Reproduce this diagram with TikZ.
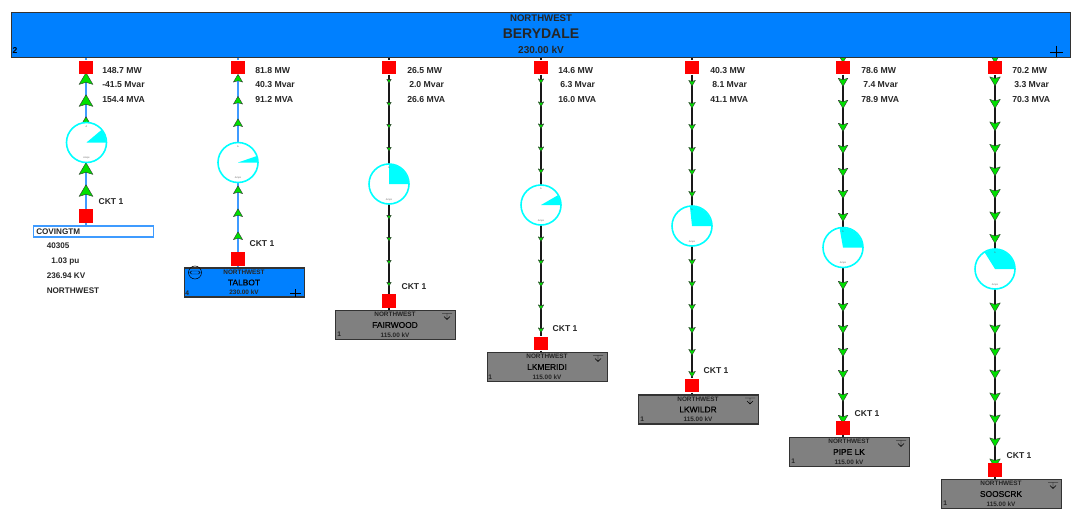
\documentclass[tikz,border=0pt]{standalone}
\usepackage{fontspec}
\setmainfont{Liberation Sans}
\newfontfamily\semib[FakeBold=0.35]{Liberation Sans}
\usetikzlibrary{backgrounds}
\definecolor{busblue}{HTML}{0080FF}
\definecolor{linblue}{HTML}{3F9BFF}
\definecolor{gaugecy}{HTML}{00FFFF}
\definecolor{busgrey}{HTML}{808080}
\definecolor{edgegrey}{HTML}{333333}
\definecolor{flowgreen}{HTML}{00E000}
\tikzset{
  x=0.75pt,y=-0.75pt,
  bigbus/.style={draw=edgegrey,line width=0.9pt,fill=busblue,minimum width=1059*0.75pt,minimum height=45*0.75pt,inner sep=0pt},
  subbus/.style={draw=edgegrey,line width=0.8pt,minimum width=120*0.75pt,minimum height=29*0.75pt,inner sep=0pt},
  breaker/.style={fill=red,draw=none,minimum size=13.5*0.75pt,inner sep=0pt},
  gauge/.style={circle,draw=gaugecy,line width=1.2pt,fill=white,minimum size=40*0.75pt,inner sep=0pt},
  flowtxt/.style={font=\bfseries\fontsize{6.5}{7}\selectfont,text=black!85,anchor=west,inner sep=0pt},
  infotxt/.style={font=\bfseries\fontsize{6.1}{7}\selectfont,text=black!85,anchor=west,inner sep=0pt},
  ckt/.style={font=\bfseries\fontsize{6.4}{7}\selectfont,text=black!85,inner sep=0pt},
  btiny/.style={font=\bfseries\fontsize{4.8}{5}\selectfont,text=black!85,inner sep=0pt},
  bnum/.style={font=\bfseries\fontsize{5}{5}\selectfont,text=black!85,inner sep=0pt,anchor=west},
  bname/.style={font=\semib\fontsize{6.3}{7}\selectfont,text=black,inner sep=0pt},
  amps/.style={font=\fontsize{1.8}{2}\selectfont,text=black!60,inner sep=0pt},
  blueln/.style={draw=linblue,line width=1.3pt},
  blackln/.style={draw=black!90,line width=1.3pt}
}
% \chev{x}{y}{half width}{dir: -1 up, 1 down}
\newcommand{\chev}[4]{%
  \filldraw[fill=flowgreen,draw=black!80,line width=0.3pt,line join=round]
   ({#1},{#2+#4*#3*1.05}) -- ({#1-#3*1.15},{#2-#4*#3*0.9}) -- ({#1},{#2-#4*#3*0.55}) -- ({#1+#3*1.15},{#2-#4*#3*0.9}) -- cycle;}
\newcommand{\gaugepie}[5]{%
  \node[gauge] (#1) at (#2,#3) {};
  \fill[gaugecy] (#2,#3) -- ++(#4:19.5*0.75pt) arc[start angle=#4,end angle=#5,radius=19.5*0.75pt] -- cycle;
  \node[amps] at (#2,#3-16) {A};
  \node[amps] at (#2,#3+15.5) {Amps};}
% \flows{left}{mvar left}{mw}{mvar}{mva}
\newcommand{\flows}[5]{%
  \node[flowtxt] at (#1,70.5) {#3};
  \node[flowtxt] at (#2,84.5) {#4};
  \node[flowtxt] at (#1,99.5) {#5};}
\newcommand{\subst}[6]{%
  \node[subbus,fill=#6] (#1) at (#2+.5,#3) {};
  \node[btiny] at (#2,#3-10.5) {NORTHWEST};
  \node[bname] at (#2,#3) {#4};
  \node[btiny] at (#2,#3+10) {#5};}
% load symbol: bar on top, arrow below
\newcommand{\loadsym}[2]{%
  \draw[black,line width=0.35pt] (#1-5,#2-11.5) -- (#1+5,#2-11.5) (#1,#2-11.5) -- (#1,#2-5.5) (#1-3,#2-8.5) -- (#1,#2-5.5) -- (#1+3,#2-8.5);}
\begin{document}
\begin{tikzpicture}
\useasboundingbox (0,0) rectangle (1071,511);
\node[bigbus,anchor=north west] (berydale) at (11,12) {};
\node[font=\bfseries\fontsize{7.2}{8}\selectfont,text=black!85,inner sep=0pt] (bt1) at (541,18) {NORTHWEST};
\node[font=\bfseries\fontsize{10.5}{11}\selectfont,text=black!85,inner sep=0pt] (bt2) at (541,34) {BERYDALE};
\node[font=\bfseries\fontsize{7.5}{8}\selectfont,text=black!85,inner sep=0pt] (bt3) at (541,49.5) {230.00 kV};
\node[font=\bfseries\fontsize{6.4}{7}\selectfont,inner sep=0pt] (bt4) at (15,51) {2};
\draw[black,line width=0.4pt] (1050,52) -- (1063,52) (1056.5,45.5) -- (1056.5,57);

% breakers top
\node[breaker] (t1) at (86,67.5) {};
\node[breaker] (t2) at (238,67.5) {};
\node[breaker] (t3) at (389,67.5) {};
\node[breaker] (t4) at (541,67.5) {};
\node[breaker] (t5) at (692,67.5) {};
\node[breaker] (t6) at (843,67.5) {};
\node[breaker] (t7) at (995,67.5) {};
% bottom breakers
\node[breaker] (b1) at (86,216) {};
\node[breaker] (b2) at (238,259) {};
\node[breaker] (b3) at (389,301) {};
\node[breaker] (b4) at (541,343.5) {};
\node[breaker] (b5) at (692,385.5) {};
\node[breaker] (b6) at (843,428) {};
\node[breaker] (b7) at (995,470) {};
% substations
\node[draw=linblue,line width=0.9pt,fill=white,minimum width=120*0.75pt,minimum height=11*0.75pt,inner sep=0pt] (s1) at (93.5,231.5) {};
\node[infotxt] (s1t) at (36,231.5) {COVINGTM};
\subst{s2}{244}{282.5}{TALBOT}{230.00 kV}{busblue}
\subst{s3}{395}{325}{FAIRWOOD}{115.00 kV}{busgrey}
\subst{s4}{547}{367}{LKMERIDI}{115.00 kV}{busgrey}
\subst{s5}{698}{409.5}{LKWILDR}{115.00 kV}{busgrey}
\subst{s6}{849}{452}{PIPE LK}{115.00 kV}{busgrey}
\subst{s7}{1001}{494}{SOOSCRK}{115.00 kV}{busgrey}
% connectors and flow marks, behind breakers, buses and gauges
\begin{scope}[on background layer]
\draw[blueln] (berydale.south -| t1) -- (t1);
\draw[blueln] (t1) -- (b1) (b1) -- (s1.north -| b1);
\draw[blueln] (berydale.south -| t2) -- (t2);
\draw[blueln] (t2) -- (b2) (b2) -- (s2.north -| b2);
\foreach \i in {3,...,7}{
  \draw[blackln] (berydale.south -| t\i) -- (t\i);
  \draw[blackln] (t\i) -- (b\i) (b\i) -- (s\i.north -| b\i);
}
\foreach \y in {79,101,123,169,191}{\chev{86}{\y}{6}{-1}}
\foreach \y in {78.5,100.5,123,190,213,236}{\chev{238}{\y}{4}{-1}}
\foreach \y in {81,104,126,149,217,239,262,284}{\chev{389}{\y}{2}{1}}
\foreach \y in {81,104,126,149,171,239,262,284,307,330}{\chev{541}{\y}{2.4}{1}}
\foreach \y in {83,105,127,150,172,194,262,284,307,330,352,374}{\chev{692}{\y}{2.9}{1}}
\foreach \y in {58,82,104,127,149,172,194,217,285,307,329,352,374,397,419}{\chev{843}{\y}{4.2}{1}}
\foreach \y in {58,81,103.5,126,148.5,171,193.5,216,238.5,307,329,352,374,397,419,442,463}{\chev{995}{\y}{4.6}{1}}
\end{scope}
% gauges
\gaugepie{g1}{86.5}{142.5}{0}{40}
\gaugepie{g2}{238}{162.5}{0}{19}
\gaugepie{g3}{389}{184}{0}{90}
\gaugepie{g4}{541}{205}{0}{30}
\gaugepie{g5}{692}{226}{0}{96}
\gaugepie{g6}{843}{247.5}{0}{100}
\gaugepie{g7}{995}{269}{0}{122}
% labels
\flows{102}{102}{148.7 MW}{-41.5 Mvar}{154.4 MVA}
\flows{255}{255}{81.8 MW}{40.3 Mvar}{91.2 MVA}
\flows{407}{409}{26.5 MW}{2.0 Mvar}{26.6 MVA}
\flows{558}{560}{14.6 MW}{6.3 Mvar}{16.0 MVA}
\flows{710}{712}{40.3 MW}{8.1 Mvar}{41.1 MVA}
\flows{861}{863}{78.6 MW}{7.4 Mvar}{78.9 MVA}
\flows{1012}{1014}{70.2 MW}{3.3 Mvar}{70.3 MVA}
\node[ckt] (c1) at (111,201.5) {CKT 1};
\node[ckt] (c2) at (262,244) {CKT 1};
\node[ckt] (c3) at (414,286.5) {CKT 1};
\node[ckt] (c4) at (565,329) {CKT 1};
\node[ckt] (c5) at (716,371) {CKT 1};
\node[ckt] (c6) at (867,413.5) {CKT 1};
\node[ckt] (c7) at (1019,455.5) {CKT 1};
% covington text
\node[infotxt] (i1) at (46.5,246) {40305};
\node[infotxt] (i2) at (51,261) {1.03 pu};
\node[infotxt] (i3) at (46.5,275.5) {236.94 KV};
\node[infotxt] (i4) at (46.5,290.5) {NORTHWEST};
% symbols in substations
\node[bnum] at (185,293) {4};
\node[bnum] at (337,334.5) {1};
\node[bnum] at (488,377) {1};
\node[bnum] at (640,419) {1};
\node[bnum] at (791,461.5) {1};
\node[bnum] at (943,503.5) {1};
\draw[black,line width=0.35pt] (290,293.5) -- (301,293.5) (295.5,289) -- (295.5,297);
\loadsym{447}{325}
\loadsym{598}{367}
\loadsym{750}{409.5}
\loadsym{901}{452}
\loadsym{1053}{494}
\draw[black,line width=0.4pt] (195,272.5) circle[radius=6.5*0.75pt];
\draw[black,line width=0.35pt] (191.5,271) -- (198.5,271) (191.5,274) -- (198.5,274)
  (191.5,271) arc[start angle=90,end angle=270,radius=1.5*0.75pt]
  (198.5,271) arc[start angle=90,end angle=-90,radius=1.5*0.75pt];
\end{tikzpicture}
\end{document}
